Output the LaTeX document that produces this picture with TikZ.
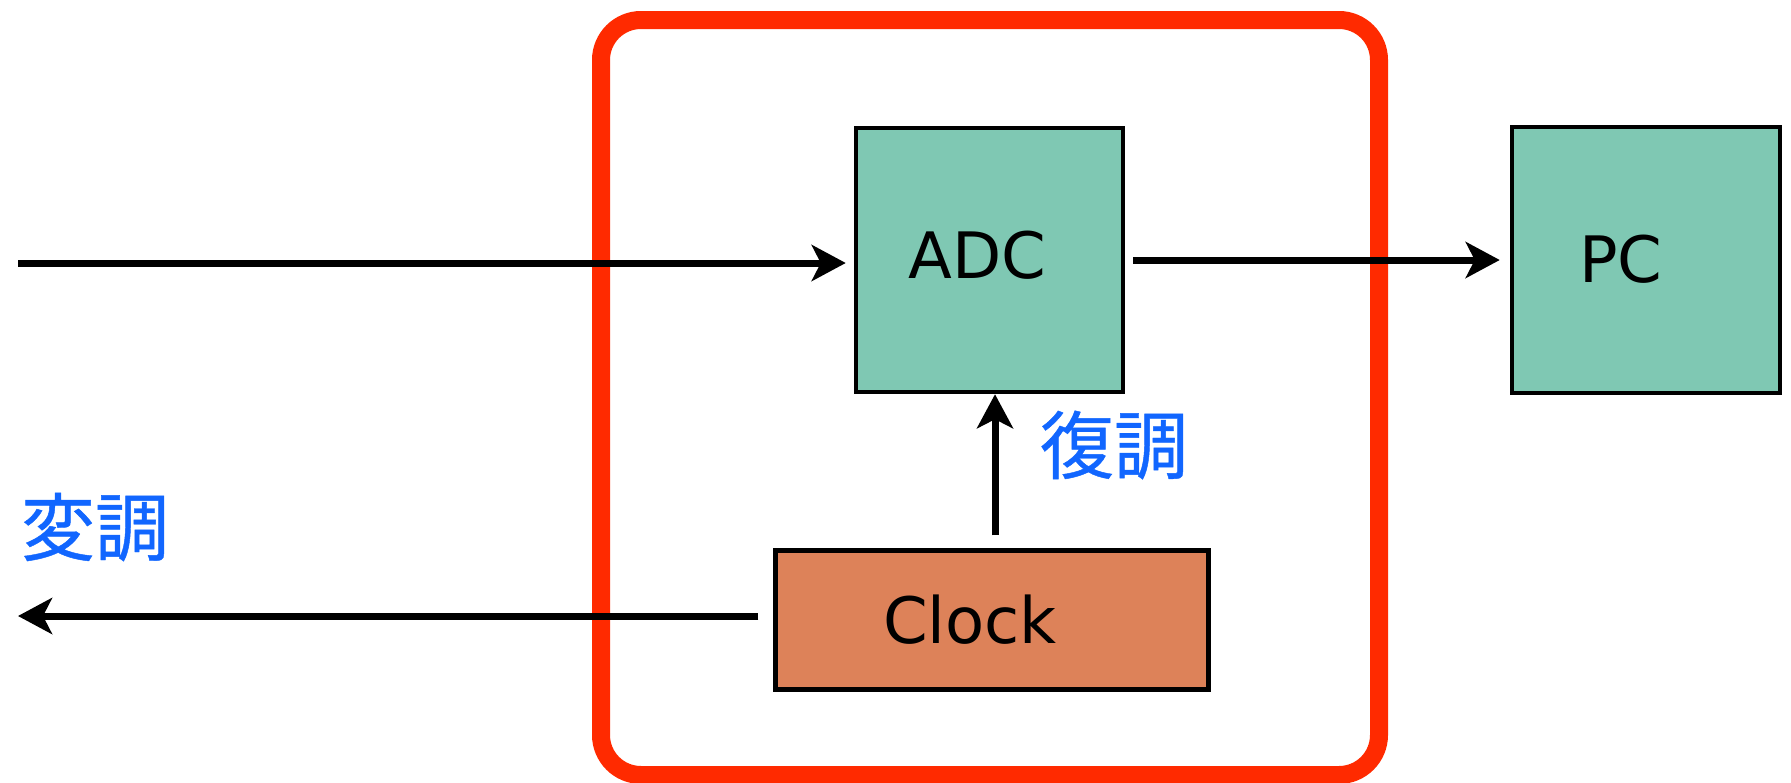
\documentclass[tikz,border=0pt]{standalone}
\usepackage{fontspec}
\setmainfont{DejaVu Sans}
\newfontfamily\cjk[FakeBold=0.6]{Noto Sans CJK JP}
\usetikzlibrary{arrows.meta}
\definecolor{teal1}{HTML}{7FC8B3}
\definecolor{clockc}{HTML}{DD8259}
\definecolor{redf}{HTML}{FF2A00}
\definecolor{bluet}{HTML}{1166FF}
\tikzset{
  blk/.style={draw=black, line width=4.5pt, inner sep=0pt},
  arr/.style={line width=7pt, -{Stealth[length=34pt, width=36pt, inset=9pt]}},
  lbl/.style={font=\fontsize{64}{70}\selectfont},
  cj/.style={text=bluet, font=\cjk\fontsize{74}{80}\selectfont, inner sep=0pt},
}
\begin{document}
\begin{tikzpicture}[x=1pt,y=-1pt]
\useasboundingbox (0,0) rectangle (1791,782);
\node[draw=redf, line width=18pt, rounded corners=40pt, minimum width=778pt, minimum height=755pt, inner sep=0pt] (frame) at (990,397.5) {};
\node[blk, fill=teal1, minimum width=267pt, minimum height=264pt, label={[lbl, xshift=-12pt, yshift=5pt]center:ADC}] (adc) at (989.5,260) {};
\node[blk, fill=teal1, minimum width=268pt, minimum height=266pt, label={[lbl, xshift=-25pt, yshift=1pt]center:PC}] (pc) at (1646,260) {};
\node[blk, fill=clockc, minimum width=433pt, minimum height=139pt, label={[lbl, xshift=-22pt, yshift=0pt]center:Clock}] (clock) at (992,620) {};
\coordinate (in) at (18,263);
\coordinate (out) at (18,616);
\draw[arr] (in) -- (in -| adc.west) [shorten >=8pt];
\draw[arr, shorten <=8pt, shorten >=10pt] (adc.east) -- (pc.west);
\draw[arr, shorten <=13pt] ([xshift=3pt]clock.north) -- ([xshift=5.5pt]adc.south);
\draw[arr, shorten <=15pt] (out -| clock.west) -- (out);
\node[cj] (mod) at (95,527) {変調};
\node[cj] (demod) at (1114,445) {復調};
\end{tikzpicture}
\end{document}
